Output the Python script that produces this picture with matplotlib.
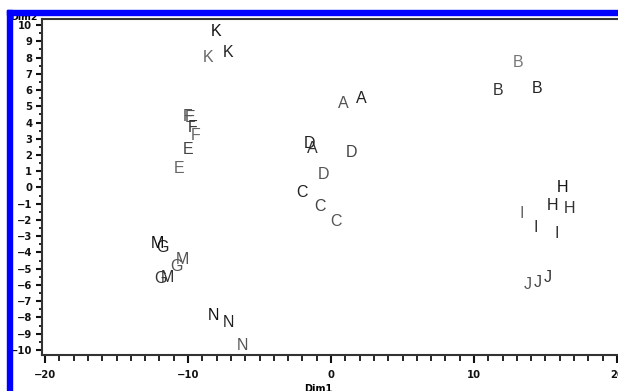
import matplotlib
matplotlib.use("Agg")
import matplotlib.pyplot as plt
from matplotlib.patches import Rectangle
from matplotlib.ticker import MultipleLocator

labels = ["A", "A", "A", "B", "B", "B", "C", "C", "C", "D", "D", "D",
          "E", "E", "E", "F", "F", "F", "G", "G", "G", "H", "H", "H",
          "I", "I", "I", "J", "J", "J", "K", "K", "K", "M", "M", "M",
          "N", "N", "N"]
dim1 = [0.84, 2.10, -1.33, 13.08, 11.68, 14.41, -2.03, -0.77, 0.35,
        -1.47, 1.40, -0.49, -9.86, -10.0, -10.63, -10.0, -9.65, -9.44,
        -11.75, -10.77, -11.89, 16.22, 15.52, 16.71, 13.36, 14.34, 15.8,
        13.78, 14.48, 15.17, -8.04, -8.6, -7.2, -12.17, -10.42, -11.47,
        -8.25, -7.2, -6.22]
dim2 = [5.14, 5.45, 2.37, 7.72, 5.94, 6.12, -0.28, -1.2, -2.12,
        2.68, 2.18, 0.77, 4.28, 2.31, 1.14, 4.34, 3.72, 3.23,
        -3.72, -4.89, -5.63, -0.03, -1.08, -1.32, -1.63, -2.49, -2.86,
        -6.0, -5.82, -5.51, 9.63, 8.03, 8.28, -3.42, -4.46, -5.57,
        -7.85, -8.34, -9.75]
shade = ["#555555", "#222222", "#333333", "#777777", "#333333", "#222222",
         "#222222", "#444444", "#555555", "#222222", "#444444", "#555555",
         "#555555", "#444444", "#666666", "#555555", "#333333", "#666666",
         "#222222", "#555555", "#333333", "#111111", "#222222", "#333333",
         "#666666", "#333333", "#333333", "#555555", "#444444", "#333333",
         "#111111", "#666666", "#222222", "#111111", "#555555", "#333333",
         "#111111", "#222222", "#555555"]

W, H = 618, 391
fig = plt.figure(figsize=(W / 100, H / 100), dpi=100)
ax = fig.add_axes([42 / W, 1 - 355 / H, 576 / W, (355 - 19.5) / H])
ax.set_xlim(-20.21, 20.07)
ax.set_ylim(-10.31, 10.34)

for lab, x, y, c in zip(labels, dim1, dim2, shade):
    ax.text(x, y, lab, ha="center", va="center", fontsize=11.5,
            family="Liberation Sans", color=c)

for s in ["top", "left", "bottom"]:
    ax.spines[s].set_color("#333333")
    ax.spines[s].set_linewidth(1.5)
ax.spines["right"].set_visible(False)

ax.xaxis.set_major_locator(MultipleLocator(10))
ax.xaxis.set_minor_locator(MultipleLocator(1))
ax.yaxis.set_major_locator(MultipleLocator(1))
ax.yaxis.set_minor_locator(MultipleLocator(0.5))
ax.tick_params(axis="x", which="major", length=6, width=1.5, direction="out",
               pad=5, labelsize=7.2, colors="#111111")
ax.tick_params(axis="x", which="minor", length=4, width=1.2, direction="out")
ax.tick_params(axis="y", which="major", length=4, width=1.5, direction="out",
               pad=3, labelsize=7.2, colors="#111111")
ax.tick_params(axis="y", which="minor", length=2, width=1.2, direction="out")
for t in ax.get_xticklabels() + ax.get_yticklabels():
    t.set_fontweight("bold")

fig.text(10 / W, 1 - 20 / H, "Dim2", fontsize=6.8, fontweight="bold",
         ha="left", va="baseline", zorder=1)
fig.text(318 / W, 1 - 384 / H, "Dim1", fontsize=7, fontweight="bold",
         ha="center", va="top", zorder=1)

fig.patches.append(Rectangle((7 / W, 1 - 15 / H), 611 / W, 5.5 / H,
                             transform=fig.transFigure, color="#0000ff",
                             zorder=5))
fig.patches.append(Rectangle((7 / W, 0), 5 / W, 1 - 9.5 / H,
                             transform=fig.transFigure, color="#0000ff",
                             zorder=5))

fig.savefig("out.png", dpi=100)
